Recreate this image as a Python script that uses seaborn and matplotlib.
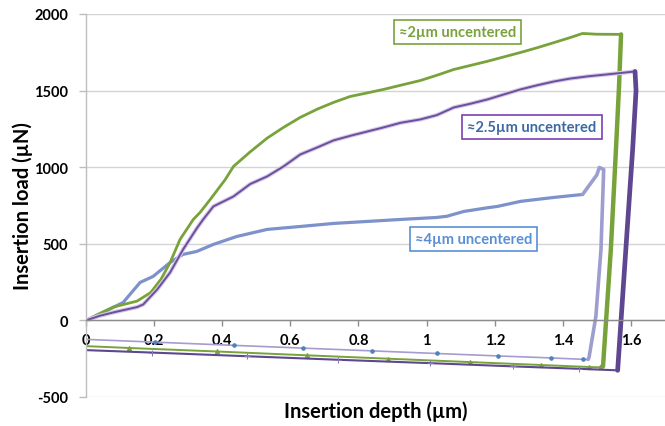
import matplotlib
matplotlib.use("Agg")
import matplotlib.pyplot as plt
import seaborn as sns
import numpy as np

# ---------------- data ----------------
# ≈2µm uncentered (green)
green_load_x = [0, 0.04, 0.08, 0.15, 0.19, 0.22, 0.247, 0.276, 0.315, 0.335, 0.365, 0.409, 0.433,
                0.482, 0.532, 0.58, 0.629, 0.68, 0.727, 0.776, 0.826, 0.874, 0.924, 0.982, 1.03,
                1.08, 1.13, 1.178, 1.227, 1.276, 1.325, 1.375, 1.42, 1.458, 1.50, 1.571]
green_load_y = [0, 45, 87, 126, 182, 268, 378, 528, 659, 705, 790, 920, 1005,
                1100, 1190, 1260, 1325, 1380, 1423, 1462, 1485, 1508, 1535, 1566, 1600,
                1638, 1665, 1691, 1720, 1749, 1780, 1814, 1845, 1873, 1868, 1867]
green_drop_x = [1.571, 1.565, 1.556, 1.541, 1.518, 1.512]
green_drop_y = [1867, 1527, 1116, 463, -300, -307]
green_unload_x = [1.512, 1.476, 1.335, 1.127, 0.888, 0.65, 0.385, 0.126, 0]
green_unload_y = [-307, -304, -291, -272, -250, -228, -203, -180, -168]

# ≈2.5µm uncentered (purple)
purple_load_x = [0, 0.04, 0.08, 0.15, 0.168, 0.209, 0.247, 0.285, 0.325, 0.344, 0.374, 0.433,
                 0.482, 0.532, 0.58, 0.629, 0.68, 0.727, 0.776, 0.826, 0.874, 0.924, 0.982,
                 1.03, 1.08, 1.13, 1.178, 1.227, 1.276, 1.325, 1.375, 1.42, 1.473, 1.54, 1.612]
purple_load_y = [0, 30, 52, 87, 104, 202, 313, 463, 600, 659, 744, 809,
                 890, 940, 1005, 1083, 1130, 1175, 1205, 1233, 1260, 1290, 1312,
                 1340, 1390, 1415, 1442, 1475, 1508, 1535, 1560, 1578, 1593, 1608, 1625]
purple_drop_x = [1.612, 1.615, 1.605, 1.585, 1.561]
purple_drop_y = [1625, 1500, 1116, 463, -326]
purple_unload_x = [1.561, 1.447, 1.253, 1.01, 0.741, 0.473, 0.194, 0]
purple_unload_y = [-326, -316, -300, -279, -257, -234, -210, -194]

# ≈4µm uncentered (blue)
blue_load_x = [0, 0.04, 0.08, 0.109, 0.159, 0.197, 0.247, 0.285, 0.325, 0.374, 0.443, 0.532,
               0.629, 0.727, 0.826, 0.924, 1.03, 1.06, 1.109, 1.178, 1.208, 1.276, 1.375, 1.458]
blue_load_y = [0, 40, 85, 117, 248, 287, 378, 431, 450, 496, 548, 594,
               613, 633, 646, 659, 672, 680, 711, 735, 744, 777, 803, 822]
blue_drop_x = [1.458, 1.50, 1.507, 1.52, 1.512, 1.497, 1.477, 1.474]
blue_drop_y = [822, 950, 998, 985, 463, 26, -241, -255]
blue_unload_x = [1.474, 1.459, 1.365, 1.21, 1.03, 0.841, 0.638, 0.435, 0.203, 0]
blue_unload_y = [-255, -254, -245, -232, -216, -199, -181, -163, -142, -124]

labels = ["≈2µm uncentered", "≈2.5µm uncentered", "≈4µm uncentered"]
label_pos_x = [1.091, 1.309, 1.138]
label_pos_y = [1880, 1260, 529]

x_ticks = [0, 0.2, 0.4, 0.6, 0.8, 1, 1.2, 1.4, 1.6]
x_tick_labels = ["0", "0.2", "0.4", "0.6", "0.8", "1", "1.2", "1.4", "1.6"]
y_ticks = [-500, 0, 500, 1000, 1500, 2000]

# ---------------- styling ----------------
sns.set_theme(style="white")
plt.rcParams['font.family'] = ['Lato', 'DejaVu Sans']
plt.rcParams['axes.unicode_minus'] = False

GREEN = "#78a33b"
PURPLE = "#6a4f9e"
PURPLE_DARK = "#5e4690"
BLUE = "#7d91cb"
LAVENDER = "#9d9ecf"
BLUE_UNLOAD = "#a59cd0"

fig = plt.figure(figsize=(6.65, 4.27), dpi=100)
ax = fig.add_axes([86/665, 1 - 398/427, (665-86)/665, (398-15)/427])

def line(x, y, **kw):
    sns.lineplot(x=x, y=y, sort=False, estimator=None, ax=ax, legend=False, **kw)

# blue series
line(blue_unload_x, blue_unload_y, color=BLUE_UNLOAD, linewidth=1.2,
     marker="o", markersize=2.5, markerfacecolor="#4f81bd", markeredgecolor="#4f81bd",
     markevery=list(range(1, len(blue_unload_x) - 1)))
line(blue_load_x, blue_load_y, color=BLUE, linewidth=2.3)
line(blue_drop_x, blue_drop_y, color=LAVENDER, linewidth=2.6)

# green series
line(green_unload_x, green_unload_y, color=GREEN, linewidth=1.4,
     marker="^", markersize=3, markerfacecolor=GREEN, markeredgecolor=GREEN,
     markevery=list(range(1, len(green_unload_x) - 1)))
line(green_load_x, green_load_y, color=GREEN, linewidth=2.0)
line(green_drop_x, green_drop_y, color=GREEN, linewidth=3.2)

# purple series
line(purple_unload_x, purple_unload_y, color=PURPLE_DARK, linewidth=1.5,
     marker="+", markersize=4, markeredgecolor="#8a78b8",
     markevery=list(range(1, len(purple_unload_x) - 1)))
line(purple_load_x, purple_load_y, color="#d6c8e6", linewidth=3.0)
line(purple_load_x, purple_load_y, color=PURPLE, linewidth=1.4)
line(purple_drop_x, purple_drop_y, color=PURPLE_DARK, linewidth=3.4)

ax.set_xlim(0, 1.7)
ax.set_ylim(-500, 2000)
ax.set_xticks(x_ticks)
ax.set_xticklabels(x_tick_labels)
ax.set_yticks(y_ticks)

ax.yaxis.grid(True, color="#d4d4d4", linewidth=1.0)
ax.xaxis.grid(False)
for s in ["top", "right"]:
    ax.spines[s].set_visible(False)
ax.spines["bottom"].set_position(("data", 0))
ax.spines["bottom"].set_color("#8c8c8c")
ax.spines["left"].set_color("#bdbdbd")
ax.spines["bottom"].set_linewidth(1.0)
ax.spines["left"].set_linewidth(1.0)

ax.tick_params(axis="x", direction="out", length=4, width=1, color="#8c8c8c", pad=5,
               labelsize=10.5, bottom=True)
ax.tick_params(axis="y", direction="out", length=5, width=1, color="#bdbdbd", pad=8,
               labelsize=10.5, left=True)
for lab in ax.get_xticklabels() + ax.get_yticklabels():
    lab.set_fontweight("bold")
    lab.set_color("black")

ax.set_xlabel("Insertion depth (µm)", fontsize=14.5, fontweight="bold", color="black")
ax.set_ylabel("Insertion load (µN)", fontsize=14.5, fontweight="bold", color="black")
ax.xaxis.set_label_coords(0.5, -0.037)
ax.xaxis.label.set_va("center")
ax.yaxis.set_label_coords(-0.109, 0.5)
ax.yaxis.label.set_va("center")

text_colors = [GREEN, "#3d69a3", "#5a8fd6"]
edge_colors = [GREEN, "#7b3fb3", "#5a8fd6"]
for t, xx, yy, tc, ec in zip(labels, label_pos_x, label_pos_y, text_colors, edge_colors):
    ax.text(xx, yy, t, ha="center", va="center", fontsize=10.5, fontweight="bold",
            color=tc, zorder=10,
            bbox=dict(boxstyle="square,pad=0.35", facecolor="white", edgecolor=ec, linewidth=1.2))

fig.savefig("out.png", dpi=100)
